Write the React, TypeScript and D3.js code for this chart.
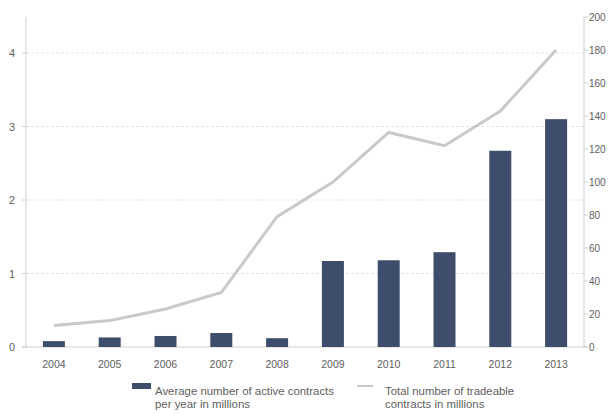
import React from "react";
import * as d3 from "d3";

const years = ["2004", "2005", "2006", "2007", "2008", "2009", "2010", "2011", "2012", "2013"];
const activeContracts = [0.08, 0.13, 0.15, 0.19, 0.12, 1.17, 1.18, 1.29, 2.67, 3.1];
const tradeableContracts = [13, 16, 23, 33, 79, 100, 130, 122, 143, 180];
const leftTicks = [0, 1, 2, 3, 4];
const rightTicks = [0, 20, 40, 60, 80, 100, 120, 140, 160, 180, 200];
const legendBar = ["Average number of active contracts", "per year in millions"];
const legendLine = ["Total number of tradeable", "contracts in millions"];

export default function App() {
  const W = 612, H = 414;
  const left = 26, right = 584, top = 17, bottom = 347;
  const xc = d3.scalePoint<string>().domain(years).range([left, right]).padding(0.5);
  const yL = d3.scaleLinear().domain([0, 4.49]).range([bottom, top]);
  const yR = d3.scaleLinear().domain([0, 200]).range([bottom, top]);
  const line = d3.line<number>().x((_, i) => xc(years[i])!).y((d) => yR(d));
  const bw = 22;
  const txt = "#606060";
  const font = "Liberation Sans, Arial, sans-serif";
  return (
    <svg width={W} height={H} style={{ position: "absolute", left: 0, top: 0 }} fontFamily={font}>
      <rect width={W} height={H} fill="#fff" />
      {leftTicks.slice(1).map((t) => (
        <line key={t} x1={left} x2={right} y1={yL(t)} y2={yL(t)} stroke="#e4e4e4" strokeWidth={1} strokeDasharray="3,2" />
      ))}
      <line x1={left} x2={left} y1={top} y2={bottom} stroke="#d0d0d0" />
      <line x1={right} x2={right} y1={top} y2={bottom} stroke="#d0d0d0" />
      <line x1={left - 4} x2={right + 4} y1={bottom} y2={bottom} stroke="#d0d0d0" />
      {leftTicks.map((t) => (
        <g key={t}>
          <line x1={left - 4} x2={left} y1={yL(t)} y2={yL(t)} stroke="#d0d0d0" />
          <text x={15} y={yL(t) + 4} textAnchor="end" fontSize={11} fill={txt}>{t}</text>
        </g>
      ))}
      {rightTicks.map((t) => (
        <g key={t}>
          <line x1={right} x2={right + 4} y1={yR(t)} y2={yR(t)} stroke="#d0d0d0" />
          <text x={589} y={yR(t) + 4} textAnchor="start" fontSize={10} fill={txt}>{t}</text>
        </g>
      ))}
      {years.map((yv, i) => (
        <rect key={yv} x={xc(yv)! - bw / 2} y={yL(activeContracts[i])} width={bw} height={bottom - yL(activeContracts[i])} fill="#3e4d6b" />
      ))}
      <path d={line(tradeableContracts) || ""} fill="none" stroke="#c9c9c9" strokeWidth={3} />
      {years.map((yv) => (
        <text key={yv} x={xc(yv)} y={368} textAnchor="middle" fontSize={10.5} fill={txt}>{yv}</text>
      ))}
      <rect x={132} y={383} width={19} height={6} fill="#3e4d6b" />
      {legendBar.map((s, i) => (
        <text key={s} x={155} y={395 + i * 12.5} fontSize={11.4} fill={txt}>{s}</text>
      ))}
      <line x1={357} x2={373} y1={386} y2={386} stroke="#c9c9c9" strokeWidth={2} />
      {legendLine.map((s, i) => (
        <text key={s} x={385} y={395 + i * 12.5} fontSize={11.4} fill={txt}>{s}</text>
      ))}
    </svg>
  );
}
